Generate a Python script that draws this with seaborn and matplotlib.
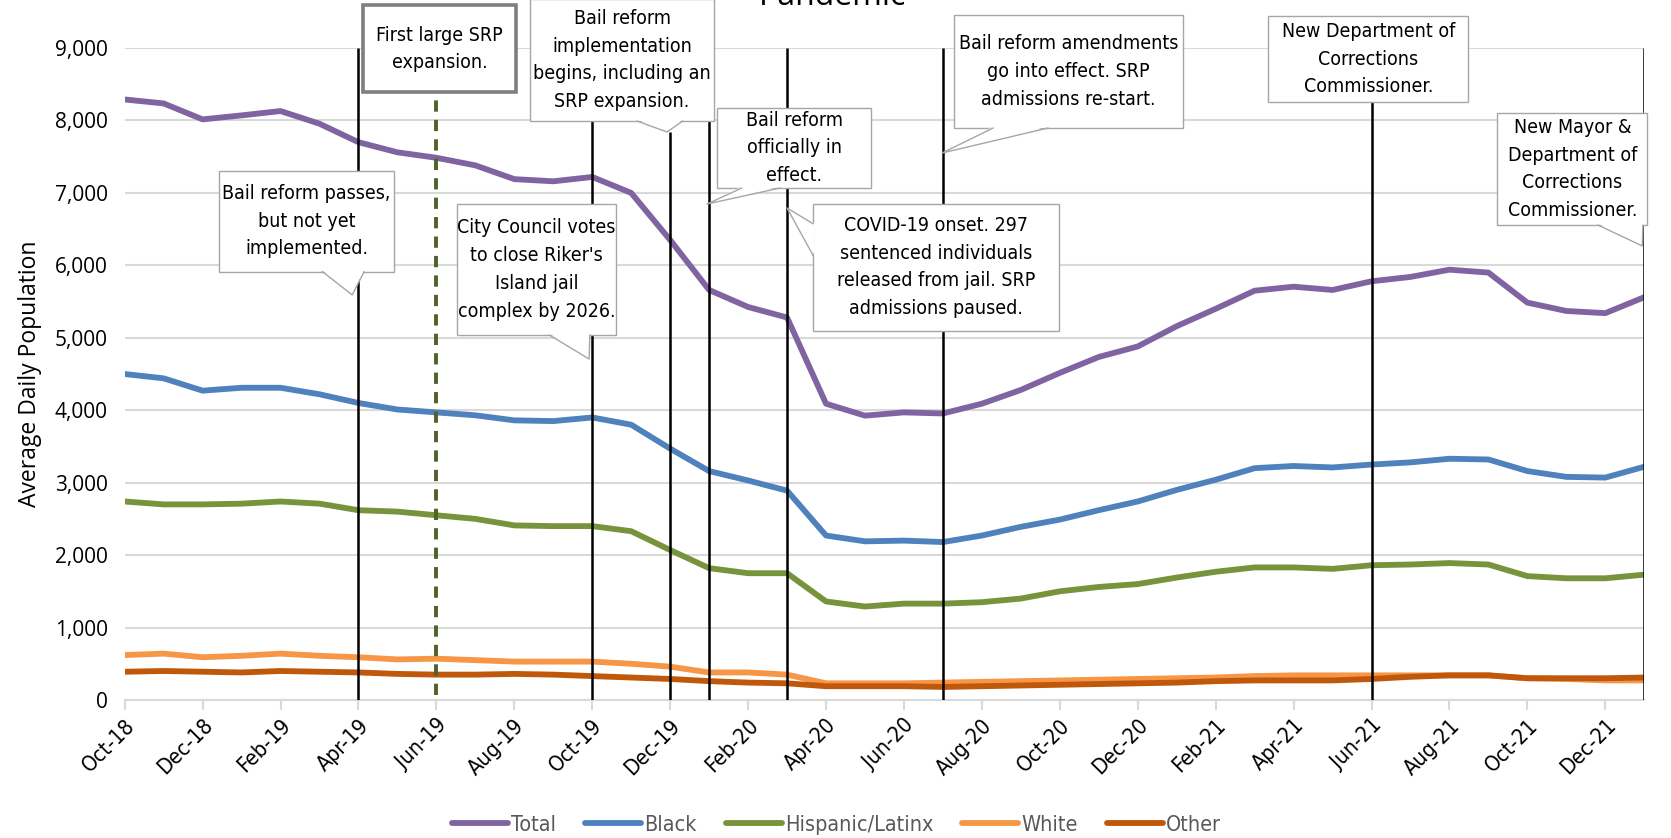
import matplotlib
matplotlib.use("Agg")
import matplotlib.pyplot as plt
from matplotlib import font_manager as fm
from matplotlib.patches import Rectangle, Polygon
from matplotlib.lines import Line2D
import seaborn as sns
import pandas as pd
import numpy as np

months = ['Oct-18','Nov-18','Dec-18','Jan-19','Feb-19','Mar-19','Apr-19','May-19','Jun-19','Jul-19',
          'Aug-19','Sep-19','Oct-19','Nov-19','Dec-19','Jan-20','Feb-20','Mar-20','Apr-20','May-20',
          'Jun-20','Jul-20','Aug-20','Sep-20','Oct-20','Nov-20','Dec-20','Jan-21','Feb-21','Mar-21',
          'Apr-21','May-21','Jun-21','Jul-21','Aug-21','Sep-21','Oct-21','Nov-21','Dec-21','Jan-22']

total = [8290, 8235, 8015, 8070, 8130, 7955, 7700, 7560, 7485, 7380,
         7190, 7160, 7220, 7000, 6350, 5660, 5425, 5280, 4090, 3925,
         3970, 3955, 4090, 4280, 4515, 4735, 4880, 5160, 5400, 5650,
         5705, 5660, 5780, 5840, 5940, 5900, 5485, 5370, 5340, 5560]
black = [4500, 4440, 4270, 4310, 4310, 4220, 4100, 4010, 3970, 3930,
         3860, 3850, 3900, 3800, 3470, 3160, 3030, 2890, 2270, 2190,
         2200, 2180, 2270, 2390, 2490, 2620, 2740, 2900, 3040, 3200,
         3230, 3210, 3250, 3280, 3330, 3320, 3160, 3080, 3070, 3220]
hispanic = [2740, 2700, 2700, 2710, 2740, 2710, 2620, 2600, 2550, 2500,
            2410, 2400, 2400, 2330, 2070, 1820, 1750, 1750, 1360, 1290,
            1330, 1330, 1350, 1400, 1500, 1560, 1600, 1690, 1770, 1830,
            1830, 1810, 1860, 1870, 1890, 1870, 1710, 1680, 1680, 1730]
white = [620, 640, 590, 610, 640, 610, 590, 560, 570, 550,
         530, 530, 530, 500, 460, 380, 380, 350, 230, 230,
         230, 240, 250, 260, 270, 280, 290, 300, 310, 330,
         340, 340, 340, 340, 340, 340, 300, 290, 270, 270]
other = [390, 400, 390, 380, 400, 390, 380, 360, 350, 350,
         360, 350, 330, 310, 290, 260, 240, 230, 190, 190,
         190, 180, 190, 200, 210, 220, 230, 240, 260, 270,
         270, 270, 290, 320, 340, 340, 300, 300, 300, 310]

series_names = ['Total', 'Black', 'Hispanic/Latinx', 'White', 'Other']
series_colors = ['#8064A2', '#4F81BD', '#77933C', '#F79646', '#C0580C']

event_lines = ['Apr-19', 'Oct-19', 'Jan-20', 'Mar-20', 'Jul-20', 'Jun-21', 'Jan-22']
dashed_event = 'Jun-19'

# callout texts and anchors (x in month index, y in population units)
callout_texts = [
    "Bail reform passes,\nbut not yet\nimplemented.",
    "First large SRP\nexpansion.",
    "Bail reform\nimplementation\nbegins, including an\nSRP expansion.",
    "City Council votes\nto close Riker's\nIsland jail\ncomplex by 2026.",
    "Bail reform\nofficially in\neffect.",
    "COVID-19 onset. 297\nsentenced individuals\nreleased from jail. SRP\nadmissions paused.",
    "Bail reform amendments\ngo into effect. SRP\nadmissions re-start.",
    "New Department of\nCorrections\nCommissioner.",
    "New Mayor &\nDepartment of\nCorrections\nCommissioner.",
]
callout_x = [4.667, 8.081, 12.766, 10.571, 17.182, 20.827, 24.229, 31.917, 37.154]
callout_y = [6612, 8987, 8835, 5943, 7620, 5977, 8676, 8848, 7330]
tip_x = [5.84, None, 13.92, 11.92, 14.95, 17.0, 20.98, None, 38.95]
tip_y = [5591, None, 7841, 4707, 6847, 6792, 7551, None, 6267]

# layout of the callout boxes (pixels) and where the pointer leaves the box
box_w = [175, 153, 184, 159, 154, 246, 229, 200, 150]
box_h = [101, 87, 122, 131, 80, 127, 113, 86, 112]
ptr_edge = ['bottom', None, 'bottom', 'bottom', 'bottom', 'left', 'bottom', None, 'bottom']
ptr_frac = [(0.59, 0.83), None, (0.58, 0.83), (0.58, 0.835), (0.16, 0.41), (0.16, 0.41),
            (0.17, 0.41), None, (0.67, 0.97)]

df = pd.DataFrame({'idx': list(range(len(months))) * 5,
                   'value': total + black + hispanic + white + other,
                   'Group': sum([[n] * len(months) for n in series_names], [])})

sns.set_theme(style="white")
plt.rcParams['font.family'] = ['Open Sans', 'DejaVu Sans']

avail = {(f.name, f.stretch) for f in fm.fontManager.ttflist}
names = {n for n, s in avail}
if 'Liberation Sans Narrow' in names:
    NARROW = dict(family=['Liberation Sans Narrow', 'DejaVu Sans'])
    nsize = 15
elif any(n == 'DejaVu Sans' and s in ('condensed', 'semi-condensed') for n, s in avail):
    NARROW = dict(family=['DejaVu Sans'], stretch='condensed')
    nsize = 14
else:
    NARROW = dict(family=['Roboto', 'DejaVu Sans'])
    nsize = 14

W, H = 1671, 838
fig = plt.figure(figsize=(W / 100, H / 100), dpi=100)
ax = fig.add_axes([0.0746, 0.1647, 0.9094, 0.778])

sns.lineplot(data=df, x='idx', y='value', hue='Group', hue_order=series_names,
             palette=series_colors, linewidth=4.2, ax=ax, legend=False, zorder=3)

ax.set_xlim(0, len(months) - 1)
ax.set_ylim(0, 9000)
ax.set_yticks(np.arange(0, 9001, 1000))
ax.set_yticklabels([f"{v:,}" for v in range(0, 9001, 1000)], fontsize=15, color='black')
ax.set_xticks(range(0, len(months), 2))
ax.set_xticklabels(months[::2], rotation=45, ha='right', rotation_mode='anchor',
                   fontsize=nsize + 1.5, color='black', **NARROW)
ax.tick_params(axis='x', length=7, width=1.5, color='#d9d9d9', pad=4, direction='out', bottom=True)
ax.tick_params(axis='y', length=0, pad=12)
ax.grid(axis='y', color='#d9d9d9', linewidth=1.5, zorder=0)
ax.set_axisbelow(True)
for s in ['top', 'right', 'left']:
    ax.spines[s].set_visible(False)
ax.spines['bottom'].set_color('#d9d9d9')
ax.spines['bottom'].set_linewidth(1.5)
ax.set_xlabel('')
ax.set_ylabel('Average Daily Population', fontsize=16.5, color='black', labelpad=9)

ev_idx = [months.index(m) for m in event_lines]
ax.vlines(ev_idx, 0, 9000, colors='black', linewidth=1.8, zorder=5)
ax.vlines([months.index('Dec-19')], 0, 7841, colors='black', linewidth=1.8, zorder=5)
ax.vlines([months.index(dashed_event)], 70, 8282, colors='#4F6228', linewidth=2.8, zorder=5,
          linestyles=(0, (2.9, 2.1)))

to_axes = ax.transAxes.inverted()

def disp_to_axes(pts):
    return to_axes.transform(np.asarray(pts, dtype=float))

GRAY = '#a6a6a6'
for i, text in enumerate(callout_texts):
    cx, cy = ax.transData.transform((callout_x[i], callout_y[i]))
    w, h = box_w[i], box_h[i]
    x0, y0 = cx - w / 2, cy - h / 2
    (ax0, ay0), (ax1, ay1) = disp_to_axes([(x0, y0), (x0 + w, y0 + h)])
    if i == 1:
        rect = Rectangle((ax0, ay0), ax1 - ax0, ay1 - ay0, transform=ax.transAxes,
                         fc='white', ec='#7f7f7f', lw=2.6, zorder=11, clip_on=False)
    else:
        rect = Rectangle((ax0, ay0), ax1 - ax0, ay1 - ay0, transform=ax.transAxes,
                         fc='white', ec=GRAY, lw=1.0, zorder=11, clip_on=False)
    ax.add_patch(rect)
    ax.text(callout_x[i], callout_y[i], text, ha='center', va='center', fontsize=nsize,
            linespacing=1.58, zorder=13, clip_on=False, color='black', **NARROW)
    if ptr_edge[i] is not None:
        f0, f1 = ptr_frac[i]
        if ptr_edge[i] == 'bottom':
            b0 = (x0 + f0 * w, y0 + 1.5)
            b1 = (x0 + f1 * w, y0 + 1.5)
            e0 = (x0 + f0 * w, y0)
            e1 = (x0 + f1 * w, y0)
        else:  # left edge, fractions from top
            b0 = (x0 + 1.5, y0 + h - f0 * h)
            b1 = (x0 + 1.5, y0 + h - f1 * h)
            e0 = (x0, y0 + h - f0 * h)
            e1 = (x0, y0 + h - f1 * h)
        tip = ax.transData.transform((tip_x[i], tip_y[i]))
        pa = disp_to_axes([b0, tip, b1])
        ax.add_patch(Polygon(pa, closed=True, transform=ax.transAxes, fc='white', ec='none',
                             zorder=12, clip_on=False))
        la = disp_to_axes([e0, tip, e1])
        ax.add_line(Line2D(la[:, 0], la[:, 1], transform=ax.transAxes, color=GRAY, lw=1.0,
                           zorder=12.5, clip_on=False))

fig.text(0.4985, 0.994, 'Pandemic', ha='center', va='baseline', fontsize=23, color='black')

handles = [plt.Line2D([], [], color=c, lw=4.2, solid_capstyle='round') for c in series_colors]
prop = {'size': nsize + 1.5}
prop.update(NARROW)
leg = fig.legend(handles, series_names, loc='center', bbox_to_anchor=(0.5006, 0.0155), ncol=5,
                 frameon=False, handlelength=2.6, handletextpad=0.15, columnspacing=1.35,
                 prop=prop, borderpad=0)
for t in leg.get_texts():
    t.set_color('#595959')

fig.savefig('out.png', dpi=100)
